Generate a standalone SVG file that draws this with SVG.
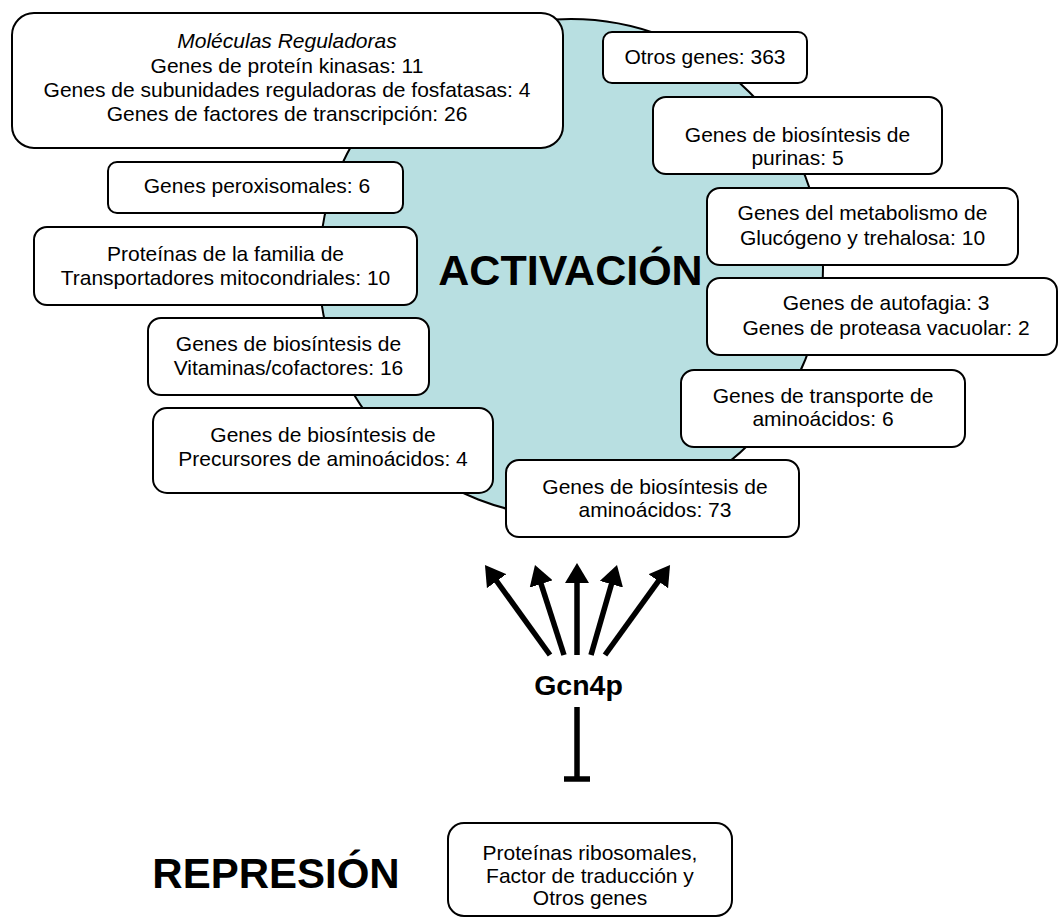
<svg xmlns="http://www.w3.org/2000/svg" width="1060" height="919" viewBox="0 0 1060 919">
<style>
text{font-family:"Liberation Sans",Arial,sans-serif;fill:#000;text-anchor:middle}
.t{font-size:21px}
.big{font-size:42px;font-weight:bold}
.g{font-size:28.5px;font-weight:bold}
.box{fill:#fff;stroke:#000;stroke-width:2}
.arr{stroke:#000;stroke-width:5.5;fill:none}
</style>
<defs>
<marker id="ah" viewBox="0 0 20 24" refX="2" refY="12" markerWidth="20" markerHeight="24" markerUnits="userSpaceOnUse" orient="auto">
<path d="M0,0 L20,12 L0,24 z" fill="#000"/>
</marker>
</defs>
<rect width="1060" height="919" fill="#fff"/>
<g id="circle"><ellipse cx="571" cy="268" rx="252" ry="249" fill="#b8dfe1" stroke="#000" stroke-width="2"/></g>
<text class="big" x="570.5" y="285" style="font-size:43px">ACTIVACIÓN</text>
<g id="n-moleculas"><rect class="box" x="12" y="13" width="551" height="135" rx="22"/>
<text class="t" x="287" y="48" font-style="italic">Moléculas Reguladoras</text>
<text class="t" x="287" y="72.5">Genes de proteín kinasas: 11</text>
<text class="t" x="287" y="97">Genes de subunidades reguladoras de fosfatasas: 4</text>
<text class="t" x="287" y="121">Genes de factores de transcripción: 26</text></g>
<g id="n-otros"><rect class="box" x="603" y="32" width="204" height="51" rx="9"/>
<text class="t" x="705" y="63.5">Otros genes: 363</text></g>
<g id="n-purinas"><rect class="box" x="653" y="97" width="289" height="77" rx="13"/>
<text class="t" x="797.5" y="142">Genes de biosíntesis de</text>
<text class="t" x="797.5" y="165">purinas: 5</text></g>
<g id="n-metabolismo"><rect class="box" x="707" y="188" width="311" height="77" rx="13"/>
<text class="t" x="862.5" y="220">Genes del metabolismo de</text>
<text class="t" x="862.5" y="245">Glucógeno y trehalosa: 10</text></g>
<g id="n-autofagia"><rect class="box" x="707" y="278" width="350" height="77" rx="13"/>
<text class="t" x="886" y="310">Genes de autofagia: 3</text>
<text class="t" x="886" y="335">Genes de proteasa vacuolar: 2</text></g>
<g id="n-transporte"><rect class="box" x="681" y="370" width="284" height="77" rx="13"/>
<text class="t" x="823" y="403">Genes de transporte de</text>
<text class="t" x="823" y="426">aminoácidos: 6</text></g>
<g id="n-aminoacidos"><rect class="box" x="506" y="460" width="293" height="77" rx="13"/>
<text class="t" x="655" y="494">Genes de biosíntesis de</text>
<text class="t" x="655" y="517">aminoácidos: 73</text></g>
<g id="n-precursores"><rect class="box" x="153" y="408" width="340" height="85" rx="14"/>
<text class="t" x="323" y="442">Genes de biosíntesis de</text>
<text class="t" x="323" y="466">Precursores de aminoácidos: 4</text></g>
<g id="n-vitaminas"><rect class="box" x="148" y="318" width="281" height="77" rx="13"/>
<text class="t" x="288.5" y="351">Genes de biosíntesis de</text>
<text class="t" x="288.5" y="375">Vitaminas/cofactores: 16</text></g>
<g id="n-mitocondriales"><rect class="box" x="34" y="227" width="383" height="78" rx="13"/>
<text class="t" x="225.5" y="260.5">Proteínas de la familia de</text>
<text class="t" x="225.5" y="284.5">Transportadores mitocondriales: 10</text></g>
<g id="n-peroxisomales"><rect class="box" x="108" y="162" width="295" height="51" rx="9"/>
<text class="t" x="257" y="192.5">Genes peroxisomales: 6</text></g>
<g id="n-gcn4p"><text class="g" x="578.5" y="695">Gcn4p</text></g>
<g id="n-ribosomales"><rect class="box" x="448" y="823" width="284" height="93" rx="16"/>
<text class="t" x="590" y="860">Proteínas ribosomales,</text>
<text class="t" x="590" y="882.5">Factor de traducción y</text>
<text class="t" x="590" y="905">Otros genes</text></g>
<text class="big" x="276" y="888">REPRESIÓN</text>
<g id="connectors">
<line class="arr" x1="550" y1="655" x2="495.5" y2="579.5" marker-end="url(#ah)"/>
<line class="arr" x1="564" y1="655" x2="540.5" y2="582.1" marker-end="url(#ah)"/>
<line class="arr" x1="577" y1="655" x2="577" y2="581" marker-end="url(#ah)"/>
<line class="arr" x1="591" y1="655" x2="612" y2="582.3" marker-end="url(#ah)"/>
<line class="arr" x1="605" y1="655" x2="659.5" y2="579.6" marker-end="url(#ah)"/>
<line class="arr" x1="577" y1="707" x2="577" y2="779"/>
<line class="arr" x1="564" y1="779" x2="590" y2="779"/>
</g>
</svg>
